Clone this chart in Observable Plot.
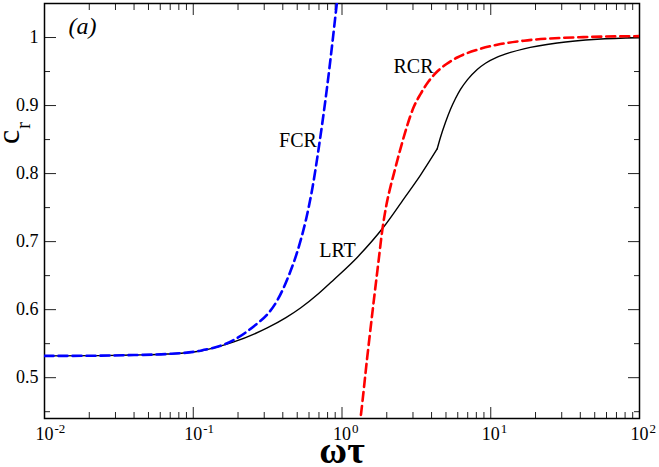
<!DOCTYPE html>
<html><head><meta charset="utf-8">
<script src="https://cdn.jsdelivr.net/npm/d3@7"></script>
<script src="https://cdn.jsdelivr.net/npm/@observablehq/plot@0.6"></script>
<style>
body{margin:0;background:#fff}
#chart svg, #chart svg text{font-family:"Liberation Serif","Times New Roman",serif !important;}
</style>
</head><body><div id="chart"></div>
<script>
// LRT (black solid)
const omegaLRT = [0.01, 0.024, 0.04, 0.067, 0.1119, 0.1874, 0.3142, 0.42, 0.526, 0.70, 0.881, 1.265, 1.910, 2.603, 3.371, 4.365, 4.594, 4.964, 5.363, 5.794, 6.261, 6.98, 8.11, 9.22, 11.05, 13.58, 16.7, 27.97, 51.95, 100];
const cLRT     = [0.532, 0.5324, 0.5333, 0.5348, 0.5393, 0.5525, 0.5731, 0.5882, 0.6024, 0.6241, 0.6441, 0.6768, 0.7218, 0.7629, 0.7978, 0.8363, 0.8534, 0.8754, 0.8946, 0.9104, 0.9237, 0.9381, 0.9531, 0.9622, 0.9712, 0.9781, 0.9834, 0.9919, 0.9974, 0.9996];
const lrtKink = 4.365; // the LRT curve has a corner here
// FCR (blue dashed)
const omegaFCR = [0.01, 0.024, 0.04, 0.067, 0.1119, 0.1874, 0.2691, 0.3142, 0.3667, 0.428, 0.526, 0.577, 0.6335, 0.698, 0.795, 0.914, 0.992];
const cFCR     = [0.532, 0.5324, 0.5333, 0.5348, 0.5397, 0.5554, 0.5796, 0.5928, 0.6134, 0.6443, 0.701, 0.7354, 0.7796, 0.838, 0.9281, 1.0419, 1.1137];
// RCR (red dashed)
const omegaRCR = [1.305, 1.331, 1.477, 1.636, 1.759, 1.872, 1.991, 2.119, 2.230, 2.474, 2.744, 3.025, 3.371, 3.815, 4.365, 5.04, 5.95, 8.11, 11.05, 16.7, 42.0, 100];
const cRCR     = [0.425, 0.4397, 0.5294, 0.6132, 0.6706, 0.7191, 0.7544, 0.7809, 0.7996, 0.8368, 0.8706, 0.8971, 0.9169, 0.9353, 0.950, 0.961, 0.9706, 0.982, 0.9894, 0.9953, 1.0006, 1.002];

// curve labels
const labelText  = ["FCR", "RCR", "LRT"];
const labelOmega = [0.506, 3.025, 0.933];
const labelC     = [0.8397, 0.9485, 0.678];

// ticks
const xMajor = [0.01, 0.1, 1, 10, 100];
const xExponents = ["-2", "-1", "0", "1", "2"];
const xMinor = [0.02,0.03,0.04,0.05,0.06,0.07,0.08,0.09, 0.2,0.3,0.4,0.5,0.6,0.7,0.8,0.9, 2,3,4,5,6,7,8,9, 20,30,40,50,60,70,80,90];
const yMajor = [0.5, 0.6, 0.7, 0.8, 0.9, 1.0];
const yTickLabels = ["0.5", "0.6", "0.7", "0.8", "0.9", "1"];
const yMinor = [0.45, 0.55, 0.65, 0.75, 0.85, 0.95, 1.05];

const expMap = new Map(xMajor.map((v, i) => [v, xExponents[i]]));
const yLabMap = new Map(yMajor.map((v, i) => [v, yTickLabels[i]]));

// LRT split in two branches that share the corner point
const lrt = [];
omegaLRT.forEach((w, i) => {
  if (w <= lrtKink) lrt.push({w, c: cLRT[i], branch: 0});
  if (w >= lrtKink) lrt.push({w, c: cLRT[i], branch: 1});
});
const fcr = omegaFCR.map((w, i) => ({w, c: cFCR[i]}));
const rcr = omegaRCR.map((w, i) => ({w, c: cRCR[i]}));

const serif = "Liberation Serif";
const tk = {stroke: "#222", strokeWidth: 1, label: null, text: null};

const chart = Plot.plot({
  width: 659, height: 467,
  marginLeft: 44, marginRight: 20, marginTop: 3, marginBottom: 49,
  style: {fontFamily: serif, background: "#fff", color: "#000", overflow: "visible"},
  x: {type: "log", domain: [0.01, 100]},
  y: {domain: [0.44, 1.05]},
  marks: [
    // inward ticks on all four sides
    Plot.axisX(xMajor, {anchor: "bottom", tickSize: -11, ...tk}),
    Plot.axisX(xMinor, {anchor: "bottom", tickSize: -6, ...tk}),
    Plot.axisX(xMajor, {anchor: "top", tickSize: -11, ...tk}),
    Plot.axisX(xMinor, {anchor: "top", tickSize: -6, ...tk}),
    Plot.axisY(yMajor, {anchor: "left", tickSize: -12, ...tk}),
    Plot.axisY(yMinor, {anchor: "left", tickSize: -6, ...tk}),
    Plot.axisY(yMajor, {anchor: "right", tickSize: -12, ...tk}),
    Plot.axisY(yMinor, {anchor: "right", tickSize: -6, ...tk}),
    // tick labels
    Plot.axisX(xMajor, {anchor: "bottom", tickSize: 0, tickPadding: 9, tickFormat: () => "10", fontSize: 18, fontFamily: serif, label: null}),
    Plot.axisX(xMajor, {anchor: "bottom", tickSize: 0, tickPadding: 5, tickFormat: d => expMap.get(d), fontSize: 13, fontFamily: serif, textAnchor: "start", dx: 10, label: null}),
    Plot.axisY(yMajor, {anchor: "left", tickSize: 0, tickPadding: 6, tickFormat: d => yLabMap.get(d), fontSize: 18, fontFamily: serif, label: null}),
    Plot.frame({stroke: "#000", strokeWidth: 1.5}),
    // curves
    Plot.line(lrt, {x: "w", y: "c", z: "branch", stroke: "#000", strokeWidth: 1.4, curve: "monotone-x", clip: true}),
    Plot.line(fcr, {x: "w", y: "c", stroke: "#0000ff", strokeWidth: 2.6, strokeDasharray: "9,5", curve: "monotone-x", clip: true}),
    Plot.line(rcr, {x: "w", y: "c", stroke: "#ff0000", strokeWidth: 2.6, strokeDasharray: "9,5", curve: "monotone-x", clip: true}),
    // curve labels
    Plot.text(labelText, {x: labelOmega, y: labelC, text: labelText, fontSize: 20, fontFamily: serif, lineAnchor: "bottom"}),
    // panel tag
    Plot.text(["(a)"], {text: d => d, frameAnchor: "top-left", dx: 24, dy: 30, lineAnchor: "bottom", textAnchor: "start", fontSize: 24, fontStyle: "italic", fontFamily: serif}),
    // axis titles
    Plot.text(["ωτ"], {text: d => d, frameAnchor: "bottom", dy: 44, lineAnchor: "bottom", fontSize: 38, fontWeight: "bold", fontFamily: serif}),
    Plot.text(["c"], {text: d => d, frameAnchor: "left", rotate: -90, dx: -26, dy: -67, lineAnchor: "bottom", fontSize: 32, fontFamily: serif}),
    Plot.text(["r"], {text: d => d, frameAnchor: "left", rotate: -90, dx: -15, dy: -82, lineAnchor: "bottom", fontSize: 21, fontFamily: serif})
  ]
});
document.getElementById("chart").appendChild(chart);
</script>
</body></html>
